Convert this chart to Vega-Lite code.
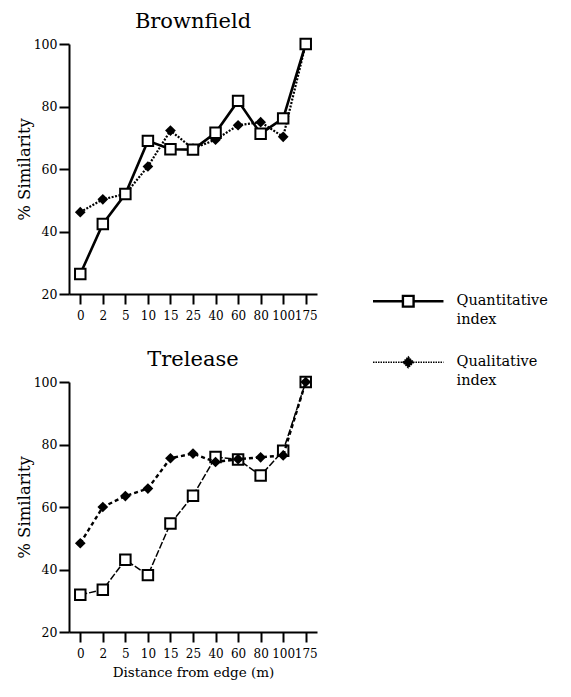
{
  "$schema": "https://vega.github.io/schema/vega-lite/v6.json",
  "padding": {"left": 16, "top": 10, "right": 5, "bottom": 5},
  "background": "white",
  "config": {
    "view": {"stroke": null},
    "font": "DejaVu Serif",
    "style": {"guide-label": {"lineHeight": 19}},
    "axis": {
      "domainColor": "black", "domainWidth": 2, "tickColor": "black", "tickWidth": 2,
      "labelFont": "DejaVu Serif", "labelFontSize": 12, "labelColor": "black",
      "titleFont": "DejaVu Serif", "titleFontWeight": "normal", "titleColor": "black",
      "grid": false
    },
    "legend": {"labelFont": "DejaVu Serif"},
    "title": {"font": "DejaVu Serif", "fontSize": 21, "fontWeight": "normal", "color": "black", "anchor": "middle"}
  },
  "datasets": {
    "sim": [
      {"site": "Brownfield", "series": "Quantitative index", "dist": 0, "value": 26.4},
      {"site": "Brownfield", "series": "Quantitative index", "dist": 2, "value": 42.4},
      {"site": "Brownfield", "series": "Quantitative index", "dist": 5, "value": 52},
      {"site": "Brownfield", "series": "Quantitative index", "dist": 10, "value": 69},
      {"site": "Brownfield", "series": "Quantitative index", "dist": 15, "value": 66.3},
      {"site": "Brownfield", "series": "Quantitative index", "dist": 25, "value": 66.2},
      {"site": "Brownfield", "series": "Quantitative index", "dist": 40, "value": 71.6},
      {"site": "Brownfield", "series": "Quantitative index", "dist": 60, "value": 81.8},
      {"site": "Brownfield", "series": "Quantitative index", "dist": 80, "value": 71.3},
      {"site": "Brownfield", "series": "Quantitative index", "dist": 100, "value": 76.2},
      {"site": "Brownfield", "series": "Quantitative index", "dist": 175, "value": 100},
      {"site": "Brownfield", "series": "Qualitative index", "dist": 0, "value": 46.2},
      {"site": "Brownfield", "series": "Qualitative index", "dist": 2, "value": 50.3},
      {"site": "Brownfield", "series": "Qualitative index", "dist": 5, "value": 52},
      {"site": "Brownfield", "series": "Qualitative index", "dist": 10, "value": 60.8},
      {"site": "Brownfield", "series": "Qualitative index", "dist": 15, "value": 72.3},
      {"site": "Brownfield", "series": "Qualitative index", "dist": 25, "value": 66.5},
      {"site": "Brownfield", "series": "Qualitative index", "dist": 40, "value": 69.4},
      {"site": "Brownfield", "series": "Qualitative index", "dist": 60, "value": 74},
      {"site": "Brownfield", "series": "Qualitative index", "dist": 80, "value": 75},
      {"site": "Brownfield", "series": "Qualitative index", "dist": 100, "value": 70.3},
      {"site": "Brownfield", "series": "Qualitative index", "dist": 175, "value": 100},
      {"site": "Trelease", "series": "Quantitative index", "dist": 0, "value": 31.9},
      {"site": "Trelease", "series": "Quantitative index", "dist": 2, "value": 33.5},
      {"site": "Trelease", "series": "Quantitative index", "dist": 5, "value": 43.1},
      {"site": "Trelease", "series": "Quantitative index", "dist": 10, "value": 38.2},
      {"site": "Trelease", "series": "Quantitative index", "dist": 15, "value": 54.7},
      {"site": "Trelease", "series": "Quantitative index", "dist": 25, "value": 63.6},
      {"site": "Trelease", "series": "Quantitative index", "dist": 40, "value": 76},
      {"site": "Trelease", "series": "Quantitative index", "dist": 60, "value": 75.2},
      {"site": "Trelease", "series": "Quantitative index", "dist": 80, "value": 70.1},
      {"site": "Trelease", "series": "Quantitative index", "dist": 100, "value": 78},
      {"site": "Trelease", "series": "Quantitative index", "dist": 175, "value": 100},
      {"site": "Trelease", "series": "Qualitative index", "dist": 0, "value": 48.4},
      {"site": "Trelease", "series": "Qualitative index", "dist": 2, "value": 60},
      {"site": "Trelease", "series": "Qualitative index", "dist": 5, "value": 63.5},
      {"site": "Trelease", "series": "Qualitative index", "dist": 10, "value": 65.9},
      {"site": "Trelease", "series": "Qualitative index", "dist": 15, "value": 75.6},
      {"site": "Trelease", "series": "Qualitative index", "dist": 25, "value": 77.1},
      {"site": "Trelease", "series": "Qualitative index", "dist": 40, "value": 74.4},
      {"site": "Trelease", "series": "Qualitative index", "dist": 60, "value": 75.3},
      {"site": "Trelease", "series": "Qualitative index", "dist": 80, "value": 75.9},
      {"site": "Trelease", "series": "Qualitative index", "dist": 100, "value": 76.5},
      {"site": "Trelease", "series": "Qualitative index", "dist": 175, "value": 100}
    ]
  },
  "data": {"name": "sim"},
  "spacing": 27,
  "vconcat": [
    {
      "title": {"text": "Brownfield", "offset": 3},
      "width": 248, "height": 250,
      "transform": [{"filter": "datum.site === 'Brownfield'"}],
      "encoding": {
        "x": {"field": "dist", "type": "ordinal", "scale": {"type": "point", "padding": 0.5},
              "axis": {"title": null, "labelAngle": 0, "tickSize": 10, "labelPadding": 6}},
        "y": {"field": "value", "type": "quantitative", "scale": {"domain": [20, 100], "nice": false, "zero": false},
              "axis": {"title": "% Similarity", "titleFontSize": 16.5, "labelFontSize": 12.5, "values": [20, 40, 60, 80, 100], "tickSize": 10, "labelPadding": 2, "titlePadding": 1}}
      },
      "layer": [
        {"transform": [{"filter": "datum.series === 'Qualitative index'"}],
         "mark": {"type": "line", "color": "black", "strokeWidth": 2.2, "strokeDash": [2, 1.5]}},
        {"transform": [{"filter": "datum.series === 'Qualitative index'"}],
         "mark": {"type": "point", "shape": "diamond", "filled": true, "color": "black", "size": 115, "opacity": 1}},
        {"transform": [{"filter": "datum.series === 'Quantitative index'"}],
         "mark": {"type": "line", "color": "black", "strokeWidth": 2.6}},
        {"transform": [{"filter": "datum.series === 'Quantitative index'"}],
         "mark": {"type": "point", "shape": "square", "filled": true, "fill": "white", "stroke": "black", "strokeWidth": 2, "size": 110, "opacity": 1}},
        {"mark": {"type": "point", "opacity": 0, "filled": true},
         "encoding": {
           "shape": {"field": "series", "type": "nominal",
             "scale": {"domain": ["Quantitative index", "Qualitative index"],
                       "range": ["M-6.6,0H-1M1,0H6.6M-1,-1H1V1H-1Z", "M-6.6,0H6.6M0,-1L1,0L0,1L-1,0Z"]},
             "legend": {
               "title": null, "orient": "none", "legendX": 332, "legendY": 250,
               "padding": 0, "symbolSize": 114, "labelOffset": 41, "rowPadding": 26,
               "symbolOpacity": 1, "labelFontSize": 14.5, "labelColor": "black",
               "labelBaseline": "middle", "labelLimit": 300,
               "labelExpr": "split(datum.label, ' ')"
             }},
           "fill": {"field": "series", "type": "nominal",
             "scale": {"domain": ["Quantitative index", "Qualitative index"], "range": ["white", "black"]},
             "legend": {
               "title": null, "orient": "none", "legendX": 332, "legendY": 250,
               "padding": 0, "symbolSize": 114, "labelOffset": 41, "rowPadding": 26,
               "symbolOpacity": 1, "labelFontSize": 14.5, "labelColor": "black",
               "labelBaseline": "middle", "labelLimit": 300,
               "labelExpr": "split(datum.label, ' ')"
             }},
           "stroke": {"field": "series", "type": "nominal",
             "scale": {"domain": ["Quantitative index", "Qualitative index"], "range": ["black", "black"]},
             "legend": {
               "title": null, "orient": "none", "legendX": 332, "legendY": 250,
               "padding": 0, "symbolSize": 114, "labelOffset": 41, "rowPadding": 26,
               "symbolOpacity": 1, "labelFontSize": 14.5, "labelColor": "black",
               "labelBaseline": "middle", "labelLimit": 300,
               "labelExpr": "split(datum.label, ' ')"
             }},
           "strokeWidth": {"field": "series", "type": "nominal",
             "scale": {"domain": ["Quantitative index", "Qualitative index"], "range": [2.4, 1.5]},
             "legend": {
               "title": null, "orient": "none", "legendX": 332, "legendY": 250,
               "padding": 0, "symbolSize": 114, "labelOffset": 41, "rowPadding": 26,
               "symbolOpacity": 1, "labelFontSize": 14.5, "labelColor": "black",
               "labelBaseline": "middle", "labelLimit": 300,
               "labelExpr": "split(datum.label, ' ')"
             }},
           "strokeDash": {"field": "series", "type": "nominal",
             "scale": {"domain": ["Quantitative index", "Qualitative index"], "range": [[1, 0], [1.5, 1]]},
             "legend": {
               "title": null, "orient": "none", "legendX": 332, "legendY": 250,
               "padding": 0, "symbolSize": 114, "labelOffset": 41, "rowPadding": 26,
               "symbolOpacity": 1, "labelFontSize": 14.5, "labelColor": "black",
               "labelBaseline": "middle", "labelLimit": 300,
               "labelExpr": "split(datum.label, ' ')"
             }}
         }}
      ]
    },
    {
      "title": {"text": "Trelease", "offset": 3},
      "width": 248, "height": 250,
      "transform": [{"filter": "datum.site === 'Trelease'"}],
      "encoding": {
        "x": {"field": "dist", "type": "ordinal", "scale": {"type": "point", "padding": 0.5},
              "axis": {"title": "Distance from edge (m)", "titleFontSize": 13.5, "titlePadding": 6, "labelAngle": 0, "tickSize": 10, "labelPadding": 6}},
        "y": {"field": "value", "type": "quantitative", "scale": {"domain": [20, 100], "nice": false, "zero": false},
              "axis": {"title": "% Similarity", "titleFontSize": 16.5, "labelFontSize": 12.5, "values": [20, 40, 60, 80, 100], "tickSize": 10, "labelPadding": 2, "titlePadding": 1}}
      },
      "layer": [
        {"transform": [{"filter": "datum.series === 'Quantitative index'"}],
         "mark": {"type": "line", "color": "black", "strokeWidth": 1.5, "strokeDash": [7, 2]}},
        {"transform": [{"filter": "datum.series === 'Quantitative index'"}],
         "mark": {"type": "point", "shape": "square", "filled": true, "fill": "white", "stroke": "black", "strokeWidth": 2, "size": 110, "opacity": 1}},
        {"transform": [{"filter": "datum.series === 'Qualitative index'"}],
         "mark": {"type": "line", "color": "black", "strokeWidth": 2.4, "strokeDash": [4, 3]}},
        {"transform": [{"filter": "datum.series === 'Qualitative index'"}],
         "mark": {"type": "point", "shape": "diamond", "filled": true, "color": "black", "size": 115, "opacity": 1}}
      ]
    }
  ]
}
